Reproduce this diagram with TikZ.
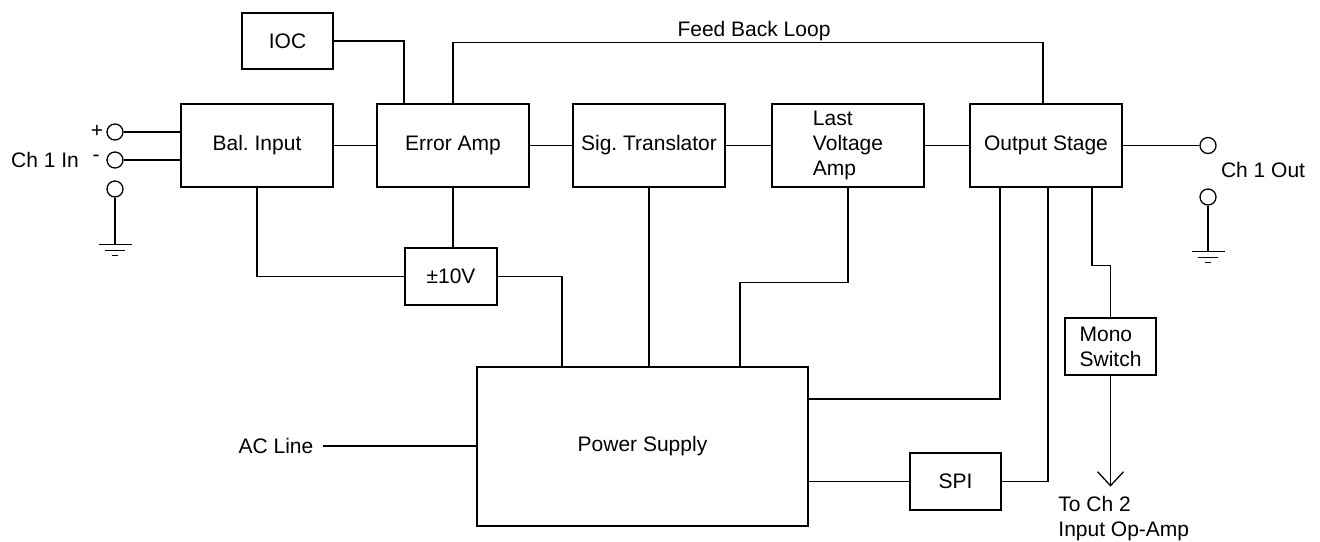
\documentclass[tikz,border=0pt]{standalone}
\usepackage{fontspec}
\setmainfont{Liberation Sans}
\usetikzlibrary{arrows.meta}
\newcommand\blkfont{\fontsize{10.5}{12.5}\selectfont\frenchspacing}
\begin{document}
\begin{tikzpicture}[x=0.5pt,y=-0.5pt,
  wire/.style={line width=0.65pt},
  blk/.style={draw, line width=0.65pt, inner sep=0pt, font=\blkfont, align=center},
  term/.style={draw, circle, minimum size=8pt, inner sep=0pt, line width=0.65pt},
  lbl/.style={inner sep=0pt, font=\blkfont},
  earthsym/.pic={\draw[line width=0.65pt] (-16.5,0)--(16.5,0) (-10,5.5)--(10,5.5) (-3,10.5)--(3,10.5);}
]
\useasboundingbox (0,0) rectangle (1320,541);

% signal chain blocks
\node[blk, minimum width=76pt, minimum height=41.5pt] (bal) at (257,145.5) {Bal. Input};
\node[blk, minimum width=76pt, minimum height=41.5pt] (err) at (453,145.5) {Error Amp};
\node[blk, minimum width=76pt, minimum height=41.5pt] (sig) at (649,145.5) {Sig. Translator};
\node[blk, minimum width=76pt, minimum height=41.5pt, align=left] (lva) at (848,145.5) {Last\\Voltage\\Amp};
\node[blk, minimum width=76pt, minimum height=41.5pt] (out) at (1046,145.5) {Output Stage};
\node[blk, minimum width=45.5pt, minimum height=28pt] (ioc) at (287.5,41) {IOC};

% supply and auxiliary blocks
\node[blk, minimum width=46pt, minimum height=28.5pt] (pm) at (451,276.5) {±10V};
\node[blk, minimum width=165.5pt, minimum height=79.5pt] (ps) at (642.5,446.5) {Power Supply};
\node[blk, minimum width=45.5pt, minimum height=28.5pt] (spi) at (955.5,481.5) {SPI};
\node[blk, minimum width=45.5pt, minimum height=28.5pt, align=left] (mono) at (1110.5,346.5) {Mono\\Switch};

% input and output terminals
\node[term] (tp) at (115,132) {};
\node[term] (tm) at (115,160) {};
\node[term] (tg) at (115,189) {};
\node[term] (to) at (1208,145.5) {};
\node[term] (tog) at (1208,197) {};

% labels
\node[lbl] (lp) at (97,131) {+};
\node[lbl] (lm) at (96,158) {-};
\node[lbl] (lin) at (45,160) {Ch 1 In};
\node[lbl] (lout) at (1263,170) {Ch 1 Out};
\node[lbl] (lfb) at (754,31) {Feed Back Loop};
\node[lbl] (ac) at (276,446) {AC Line};
\node[lbl, anchor=west, align=left] (lch2) at (1058,519) {To Ch 2\\Input Op-Amp};

% input wiring
\draw[wire] (tp.east) -- (tp.east -| bal.west);
\draw[wire] (tm.east) -- (tm.east -| bal.west);
\draw[wire] (tg.south) -- ++(0,47) pic{earthsym};

% signal chain
\draw[wire] (bal.east) -- (err.west);
\draw[wire] (err.east) -- (sig.west);
\draw[wire] (sig.east) -- (lva.west);
\draw[wire] (lva.east) -- (out.west);
\draw[wire] (ioc.east) -| ([xshift=-24.5pt]err.north);
\draw[wire] (err.north) -- ++(0,-61) -| ([xshift=-1.5pt]out.north);

% output wiring
\draw[wire] (out.east) -- (to.west);
\draw[wire] (tog.south) -- ++(0,46) pic{earthsym};

% supply rails
\draw[wire] (bal.south) |- (pm.west);
\draw[wire] (err.south) -- (err.south |- pm.north);
\draw[wire] (pm.east) -| ([xshift=-40.25pt]ps.north);
\draw[wire] (sig.south) -- (sig.south |- ps.north);
\draw[wire] (lva.south) -- ++(0,95) -| ([xshift=48.75pt]ps.north);
\draw[wire] ([xshift=-23pt]out.south) |- ([yshift=23.75pt]ps.east);
\draw[wire] ([xshift=1pt]out.south) |- (spi.east);
\draw[wire] (spi.west) -- (spi.west -| ps.east);
\draw[wire] ([xshift=4.5pt]ac.east) -- (ac.east -| ps.west);

% mono switch path
\draw[wire] ([xshift=23pt]out.south) -- ++(0,78) -| (mono.north);
\draw[wire, -{Straight Barb[length=7pt, width=13pt]}] (mono.south) -- ++(0,111);
\end{tikzpicture}
\end{document}
